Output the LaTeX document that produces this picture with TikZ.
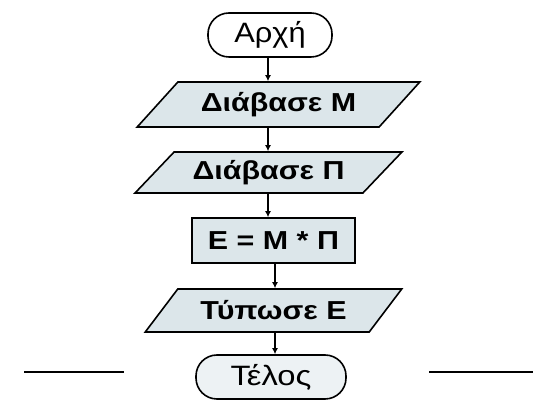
\documentclass[tikz,border=0pt]{standalone}
\usepackage{fontspec}
\setmainfont{Liberation Sans}
\newfontfamily\widefont[FakeStretch=1.17]{Liberation Sans}
\newfontfamily\startfont[FakeStretch=1.1]{Liberation Sans}
\usetikzlibrary{shapes.geometric,arrows.meta}
\definecolor{boxfill}{HTML}{DCE6EA}
\begin{document}
\begin{tikzpicture}[x=1pt,y=1pt,
  term/.style={draw=black,line width=1.6pt,rounded corners=21pt,minimum height=44pt,inner sep=0pt},
  io/.style={draw=black,line width=1.6pt,fill=boxfill,trapezium,trapezium left angle=38,trapezium right angle=142,trapezium stretches=true,inner sep=0pt,font=\widefont\bfseries\fontsize{26}{28}\selectfont},
  proc/.style={draw=black,line width=1.6pt,fill=boxfill,rectangle,inner sep=0pt,minimum width=163pt,minimum height=45pt,font=\widefont\bfseries\fontsize{26}{28}\selectfont},
  arr/.style={line width=1.3pt,-{Latex[length=6pt,width=6pt]}},
  rule/.style={line width=1.8pt}]
\useasboundingbox (0,0) rectangle (533,401);
\node[term,minimum width=124pt,font=\startfont\fontsize{28}{30}\selectfont] (start) at (270,366) {Αρχή};
\node[io,minimum width=283pt,minimum height=45pt] (p1) at (278.5,296.5) {Διάβασε Μ};
\node[io,minimum width=267pt,minimum height=41pt] (p2) at (268.5,228.5) {Διάβασε Π};
\node[proc] (calc) at (273.5,160.5) {Ε = Μ * Π};
\node[io,minimum width=257pt,minimum height=43pt] (p3) at (273.5,90.5) {Τύπωσε Ε};
\node[term,fill=boxfill!50,minimum width=150pt,font=\widefont\fontsize{28}{30}\selectfont] (end) at (271,24) {Τέλος};
\coordinate (la) at (24,29);
\coordinate (lb) at (124,29);
\coordinate (ra) at (429,29);
\coordinate (rb) at (533,29);
\draw[arr] (start.south -| 268,0) -- (p1.north -| 268,0);
\draw[arr] (p1.south -| 268,0) -- (p2.north -| 268,0);
\draw[arr] (p2.south -| 268,0) -- (calc.north -| 268,0);
\draw[arr] (calc.south -| 275,0) -- (p3.north -| 275,0);
\draw[arr] (p3.south -| 275,0) -- (end.north -| 275,0);
\draw[rule] (la) -- (lb);
\draw[rule] (ra) -- (rb);
\end{tikzpicture}
\end{document}
